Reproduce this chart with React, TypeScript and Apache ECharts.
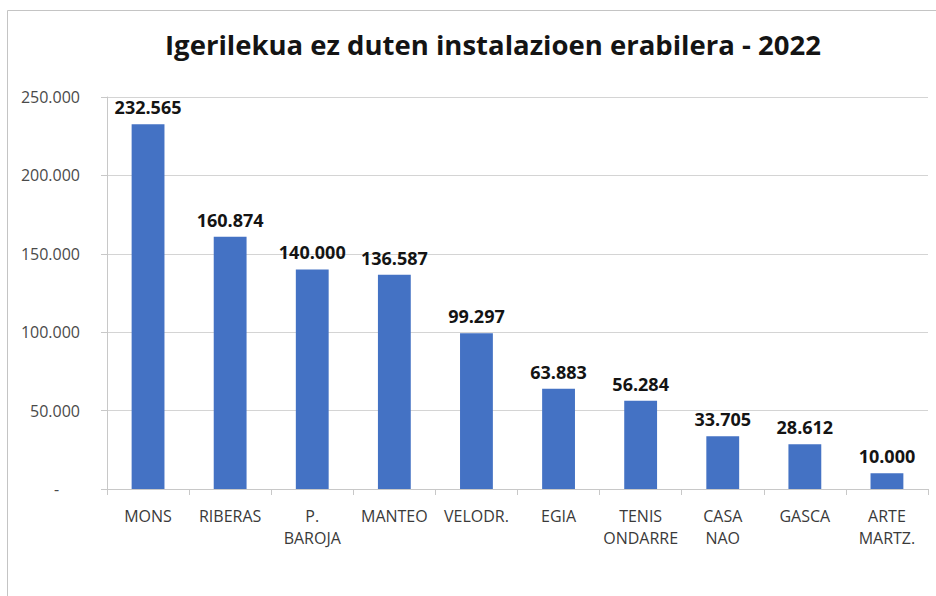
import React, { useEffect, useRef } from "react";
import * as echarts from "echarts";

const title = "Igerilekua ez duten instalazioen erabilera - 2022";
const categories = ["MONS", "RIBERAS", "P.\nBAROJA", "MANTEO", "VELODR.", "EGIA", "TENIS\nONDARRE", "CASA\nNAO", "GASCA", "ARTE\nMARTZ."];
const values = [232565, 160874, 140000, 136587, 99297, 63883, 56284, 33705, 28612, 10000];
const yMax = 250000;
const yStep = 50000;

const fmt = (v: number) => String(Math.round(v)).replace(/\B(?=(\d{3})+(?!\d))/g, ".");

export default function App() {
  const ref = useRef<HTMLDivElement>(null);
  useEffect(() => {
    if (!ref.current) return;
    const chart = echarts.init(ref.current, null, { renderer: "svg" });
    const font = "'Open Sans', sans-serif";
    chart.setOption({
      animation: false,
      backgroundColor: "#ffffff",
      title: {
        text: title,
        left: 160,
        top: 25,
        textStyle: { fontFamily: font, fontWeight: "bold", fontSize: 27.5, color: "#141414" },
      },
      graphic: [
        {
          type: "rect",
          shape: { x: 7.5, y: 10.5, width: 960, height: 620 },
          style: { fill: "none", stroke: "#c4c4c4", lineWidth: 1 },
          silent: true,
        },
      ],
      grid: { left: 107, right: 8, top: 97, bottom: 107, containLabel: false },
      xAxis: {
        type: "category",
        data: categories,
        axisLine: { show: true, lineStyle: { color: "#c8c8c8", width: 1 } },
        axisTick: { show: true, alignWithLabel: false, length: 6, lineStyle: { color: "#c8c8c8" } },
        axisLabel: {
          interval: 0,
          margin: 16,
          fontFamily: font,
          fontSize: 16,
          lineHeight: 22,
          color: "#3a3a3a",
        },
      },
      yAxis: {
        type: "value",
        min: 0,
        max: yMax,
        interval: yStep,
        axisLine: { show: true, lineStyle: { color: "#c8c8c8", width: 1 } },
        axisTick: { show: true, length: 6, lineStyle: { color: "#c8c8c8" } },
        splitLine: { show: true, lineStyle: { color: "#d4d4d4", width: 1 } },
        axisLabel: {
          margin: 27,
          fontFamily: font,
          fontSize: 16,
          color: "#4a4a4a",
          formatter: (v: number) => (v === 0 ? "-     " : fmt(v)),
        },
      },
      series: [
        {
          type: "bar",
          data: values,
          barWidth: "40%",
          itemStyle: { color: "#4472C4" },
          label: {
            show: true,
            position: "top",
            distance: 8,
            fontFamily: font,
            fontWeight: "bold",
            fontSize: 18,
            color: "#141414",
            formatter: (p: any) => fmt(p.value),
          },
        },
      ],
    });
    return () => chart.dispose();
  }, []);
  return <div ref={ref} style={{ position: "absolute", left: 0, top: 0, width: 936, height: 596 }} />;
}
